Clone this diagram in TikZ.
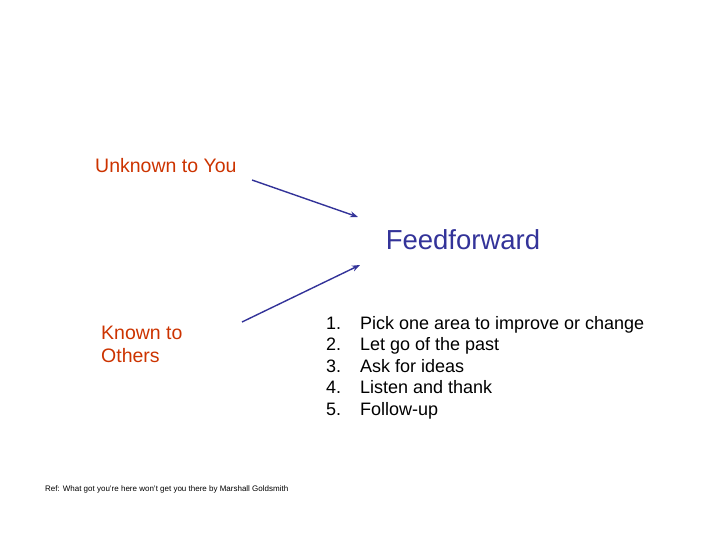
\documentclass[tikz,border=0pt]{standalone}
\usepackage{fontspec}
\setmainfont{Liberation Sans}
\usetikzlibrary{arrows.meta, positioning}
\definecolor{ffblue}{RGB}{51,51,153}
\definecolor{ffred}{RGB}{204,51,0}
\begin{document}
\begin{tikzpicture}[x=1pt, y=-1pt,
    lab/.style={font=\fontsize{19.5}{23}\selectfont, text=ffred, align=left, inner sep=0pt},
    arr/.style={-{Stealth[length=8pt, width=6pt]}, ffblue, line width=1.4pt}
  ]
    \useasboundingbox (0,0) rectangle (720,540);
    \node[lab, anchor=west] (U) at (95,166) {Unknown to You};
    \node[lab, anchor=north west] (K) at (101,326) {Known to\\Others};
    \node[font=\fontsize{27.5}{30}\selectfont, text=ffblue, inner sep=0pt] (F) at (463,240) {Feedforward};
    \node[font=\fontsize{18}{21.5}\selectfont, align=left, anchor=north west, inner sep=0pt] (L) at (326,316)
      {1.\hspace{1.05em}Pick one area to improve or change\\
       2.\hspace{1.05em}Let go of the past\\
       3.\hspace{1.05em}Ask for ideas\\
       4.\hspace{1.05em}Listen and thank\\
       5.\hspace{1.05em}Follow-up};
    \node[font=\fontsize{8}{9}\selectfont, anchor=west, inner sep=0pt] (R) at (45,489)
      {Ref: What got you're here won't get you there by Marshall Goldsmith};
    % arrow end points
    \coordinate (a1) at (252,180);
    \coordinate (b1) at (358,217);
    \coordinate (a2) at (242,322);
    \coordinate (b2) at (360,265);
    \draw[arr] (a1) -- (b1);
    \draw[arr] (a2) -- (b2);
  \end{tikzpicture}
\end{document}
